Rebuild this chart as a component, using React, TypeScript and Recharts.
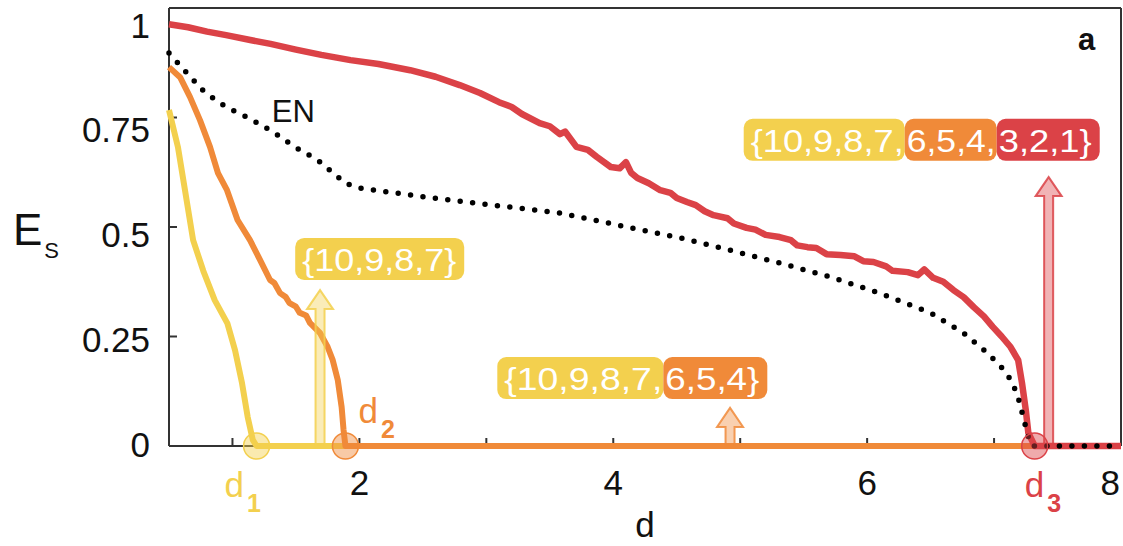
import { ComposedChart, Line, XAxis, YAxis, ReferenceDot, ReferenceLine, Label } from 'recharts'

const FONT = '"Liberation Sans", Arial, Helvetica, sans-serif'
const YELLOW = '#F3D04E'
const ORANGE = '#F08A39'
const RED = '#DB4247'
const AXIS = '#333333'

const xTicks = [1, 2, 3, 4, 5, 6, 7, 8]
const yTicks = [0, 0.25, 0.5, 0.75, 1]

// surviving fraction after removing the first group {10,9,8,7}
const yellowCurve = [
  { d: 0.5, es: 0.767 }, { d: 0.57, es: 0.683 }, { d: 0.626, es: 0.584 }, { d: 0.69, es: 0.47 },
  { d: 0.77, es: 0.4 }, { d: 0.86, es: 0.333 }, { d: 0.96, es: 0.28 }, { d: 1.02, es: 0.219 },
  { d: 1.075, es: 0.144 }, { d: 1.12, es: 0.066 }, { d: 1.16, es: 0.014 }, { d: 1.19, es: 0 },
  { d: 8, es: 0 },
]

// {10,...,4}
const orangeCurve = [
  { d: 0.5, es: 0.865 }, { d: 0.587, es: 0.842 }, { d: 0.665, es: 0.797 }, { d: 0.744, es: 0.744 },
  { d: 0.823, es: 0.683 }, { d: 0.886, es: 0.623 }, { d: 0.957, es: 0.584 }, { d: 1.04, es: 0.516 },
  { d: 1.138, es: 0.47 }, { d: 1.217, es: 0.425 }, { d: 1.296, es: 0.379 }, { d: 1.33, es: 0.372 },
  { d: 1.375, es: 0.349 }, { d: 1.42, es: 0.34 }, { d: 1.45, es: 0.326 }, { d: 1.5, es: 0.318 },
  { d: 1.53, es: 0.304 }, { d: 1.58, es: 0.298 }, { d: 1.61, es: 0.281 }, { d: 1.69, es: 0.258 },
  { d: 1.75, es: 0.226 }, { d: 1.79, es: 0.196 }, { d: 1.83, es: 0.15 }, { d: 1.86, es: 0.089 },
  { d: 1.875, es: 0.037 }, { d: 1.89, es: 0 }, { d: 8, es: 0 },
]

// {10,...,1}
const redCurve = [
  { d: 0.5, es: 0.963 }, { d: 0.65, es: 0.956 }, { d: 0.8, es: 0.946 }, { d: 0.95, es: 0.938 },
  { d: 1.14, es: 0.927 }, { d: 1.3, es: 0.918 }, { d: 1.5, es: 0.905 }, { d: 1.7, es: 0.893 },
  { d: 1.93, es: 0.881 }, { d: 2.15, es: 0.872 }, { d: 2.4, es: 0.858 }, { d: 2.6, es: 0.843 },
  { d: 2.79, es: 0.824 }, { d: 2.95, es: 0.806 }, { d: 3.1, es: 0.785 }, { d: 3.2, es: 0.774 },
  { d: 3.28, es: 0.758 }, { d: 3.42, es: 0.737 }, { d: 3.5, es: 0.73 }, { d: 3.58, es: 0.712 },
  { d: 3.62, es: 0.718 }, { d: 3.71, es: 0.683 }, { d: 3.8, es: 0.676 }, { d: 3.87, es: 0.66 },
  { d: 3.98, es: 0.637 }, { d: 4.05, es: 0.634 }, { d: 4.1, es: 0.648 }, { d: 4.14, es: 0.624 },
  { d: 4.19, es: 0.612 }, { d: 4.28, es: 0.6 }, { d: 4.37, es: 0.584 }, { d: 4.45, es: 0.578 },
  { d: 4.5, es: 0.566 }, { d: 4.58, es: 0.557 }, { d: 4.65, es: 0.55 }, { d: 4.72, es: 0.536 },
  { d: 4.79, es: 0.527 }, { d: 4.9, es: 0.52 }, { d: 4.95, es: 0.508 }, { d: 5.05, es: 0.498 },
  { d: 5.12, es: 0.494 }, { d: 5.2, es: 0.482 }, { d: 5.31, es: 0.477 }, { d: 5.4, es: 0.47 },
  { d: 5.45, es: 0.458 }, { d: 5.53, es: 0.454 }, { d: 5.6, es: 0.452 }, { d: 5.68, es: 0.438 },
  { d: 5.79, es: 0.436 }, { d: 5.9, es: 0.433 }, { d: 5.97, es: 0.422 }, { d: 6.05, es: 0.42 },
  { d: 6.15, es: 0.41 }, { d: 6.2, es: 0.4 }, { d: 6.32, es: 0.397 }, { d: 6.4, es: 0.39 },
  { d: 6.45, es: 0.403 }, { d: 6.52, es: 0.384 }, { d: 6.6, es: 0.375 }, { d: 6.68, es: 0.356 },
  { d: 6.76, es: 0.34 }, { d: 6.84, es: 0.317 }, { d: 6.92, es: 0.296 }, { d: 6.99, es: 0.272 },
  { d: 7.06, es: 0.25 }, { d: 7.13, es: 0.226 }, { d: 7.19, es: 0.196 }, { d: 7.22, es: 0.144 },
  { d: 7.25, es: 0.082 }, { d: 7.27, es: 0.03 }, { d: 7.32, es: 0 }, { d: 8, es: 0 },
]

// EN reference curve (dotted)
const enCurve = [
  { d: 0.5, es: 0.897 }, { d: 0.64, es: 0.852 }, { d: 0.78, es: 0.808 }, { d: 0.95, es: 0.774 },
  { d: 1.14, es: 0.747 }, { d: 1.32, es: 0.717 }, { d: 1.49, es: 0.683 }, { d: 1.67, es: 0.653 },
  { d: 1.89, es: 0.6 }, { d: 2.0, es: 0.589 }, { d: 2.53, es: 0.568 }, { d: 3.05, es: 0.55 },
  { d: 3.58, es: 0.532 }, { d: 4.11, es: 0.5 }, { d: 4.53, es: 0.475 }, { d: 4.92, es: 0.447 },
  { d: 5.31, es: 0.418 }, { d: 5.71, es: 0.386 }, { d: 6.1, es: 0.349 }, { d: 6.5, es: 0.304 },
  { d: 6.76, es: 0.258 }, { d: 6.95, es: 0.212 }, { d: 7.1, es: 0.167 }, { d: 7.18, es: 0.121 },
  { d: 7.23, es: 0.066 }, { d: 7.27, es: 0.02 }, { d: 7.3, es: 0 }, { d: 8, es: 0 },
]

// critical points d1, d2, d3
const criticalPoints = [
  { d: 1.19, name: 'd', sub: '1', color: YELLOW, dx: -32, dy: 51 },
  { d: 1.89, name: 'd', sub: '2', color: ORANGE, dx: 13, dy: -23 },
  { d: 7.32, name: 'd', sub: '3', color: RED, dx: -10, dy: 51 },
]

// arrows marking where each set is removed
const arrows = [
  { d: 1.69, top: 0.356, color: YELLOW },
  { d: 4.92, top: 0.087, color: ORANGE },
  { d: 7.43, top: 0.614, color: RED },
]

// removed node sets, shown as coloured chips
const setLabels = [
  { d: 2.16, es: 0.427, parts: [{ text: '{10,9,8,7}', color: YELLOW, width: 169 }] },
  {
    d: 4.15, es: 0.155, parts: [
      { text: '{10,9,8,7,', color: YELLOW, width: 166 },
      { text: '6,5,4}', color: ORANGE, width: 104 },
    ],
  },
  {
    d: 6.43, es: 0.699, parts: [
      { text: '{10,9,8,7,', color: YELLOW, width: 161 },
      { text: '6,5,4,', color: ORANGE, width: 92 },
      { text: '3,2,1}', color: RED, width: 103 },
    ],
  },
]

function YTick({ x, y, payload }: any) {
  const v = payload.value as number
  return (
    <text x={x} y={y - 2 + 18 * v} textAnchor="end" dominantBaseline="central" fontSize={35} fill="#111" fontFamily={FONT}>
      {String(v)}
    </text>
  )
}

function XTick({ x, y, payload }: any) {
  const v = payload.value as number
  if (v % 2 !== 0) return <g />
  // last label sits against the right edge
  const last = v === xTicks[xTicks.length - 1]
  return (
    <text x={last ? x + 1 : x} y={y + 25} textAnchor={last ? 'end' : 'middle'} fontSize={35} fill="#111" fontFamily={FONT}>
      {v}
    </text>
  )
}

const arrowShape = (color: string) => (p: any) => {
  const x = p.x1
  const yBase = Math.max(p.y1, p.y2)
  const yTip = Math.min(p.y1, p.y2)
  const hw = 4.5
  const headW = 13
  const yh = yTip + 19
  const path = `M${x - hw},${yBase} L${x - hw},${yh} L${x - headW},${yh} L${x},${yTip} L${x + headW},${yh} L${x + hw},${yh} L${x + hw},${yBase}`
  return <path d={path} fill={color} fillOpacity={0.4} stroke={color} strokeOpacity={0.85} strokeWidth={2} strokeLinejoin="miter" />
}

const chipShape = (parts: { text: string; color: string; width: number }[]) => (p: any) => {
  const total = parts.reduce((s, q) => s + q.width, 0)
  let left = p.cx - total / 2
  return (
    <g>
      {parts.map((q, i) => {
        const x = left
        left += q.width
        const padL = i === 0 ? 7 : 2
        const padR = i === parts.length - 1 ? 8 : 1
        return (
          <g key={i}>
            <rect x={x} y={p.cy - 21} width={q.width} height={42} rx={9} fill={q.color} />
            <text
              x={x + padL}
              y={p.cy + 1}
              dominantBaseline="central"
              fill="#fff"
              fontSize={32}
              fontFamily={FONT}
              textLength={q.width - padL - padR}
              lengthAdjust="spacingAndGlyphs"
            >
              {q.text}
            </text>
          </g>
        )
      })}
    </g>
  )
}

const criticalShape = (c: (typeof criticalPoints)[number]) => (p: any) => (
  <g>
    <circle cx={p.cx} cy={p.cy} r={13} fill={c.color} fillOpacity={0.45} stroke={c.color} strokeWidth={1.5} />
    <text x={p.cx + c.dx} y={p.cy + c.dy} fill={c.color} fontSize={35} fontFamily={FONT}>
      {c.name}
      <tspan dx={3} dy={15} fontSize={25} fontWeight="bold">{c.sub}</tspan>
    </text>
  </g>
)

const textShape = (txt: string, size: number, bold = false, anchor: 'start' | 'middle' = 'start') => (p: any) => (
  <text x={p.cx} y={p.cy} fontSize={size} fontWeight={bold ? 'bold' : 'normal'} fontFamily={FONT} fill="#111" textAnchor={anchor}>
    {txt}
  </text>
)

export default function App() {
  return (
    <div style={{ position: 'absolute', left: 0, top: 0, width: 1123, height: 546, background: '#fff' }}>
      <ComposedChart width={1123} height={546} margin={{ top: 7, right: 1, bottom: 0, left: 0 }} style={{ fontFamily: FONT }}>
        <XAxis
          xAxisId={0}
          dataKey="d"
          type="number"
          domain={[0.5, 8]}
          ticks={xTicks}
          height={100}
          tickSize={-8}
          tickMargin={32}
          tick={<XTick />}
          axisLine={{ stroke: AXIS, strokeWidth: 2 }}
          tickLine={{ stroke: AXIS, strokeWidth: 2 }}
        >
          <Label
            content={({ viewBox }: any) => (
              <text x={viewBox.x + viewBox.width / 2} y={viewBox.y + 91} textAnchor="middle" fontSize={35} fill="#111" fontFamily={FONT}>
                d
              </text>
            )}
          />
        </XAxis>
        <XAxis
          xAxisId="top"
          orientation="top"
          type="number"
          domain={[0.5, 8]}
          ticks={xTicks}
          height={1}
          tickSize={-8}
          tick={false}
          axisLine={{ stroke: AXIS, strokeWidth: 2 }}
          tickLine={{ stroke: AXIS, strokeWidth: 2 }}
        />
        <YAxis
          yAxisId={0}
          type="number"
          domain={[0, 1]}
          ticks={yTicks}
          width={169}
          tickSize={-8}
          tickMargin={27}
          tick={<YTick />}
          axisLine={{ stroke: AXIS, strokeWidth: 2 }}
          tickLine={{ stroke: AXIS, strokeWidth: 2 }}
        >
          <Label
            content={({ viewBox }: any) => (
              <text x={13} y={viewBox.y + viewBox.height / 2 + 18} fontSize={44} fill="#111" fontFamily={FONT}>
                E
                <tspan dx={2} dy={13} fontSize={22}>S</tspan>
              </text>
            )}
          />
        </YAxis>
        <YAxis
          yAxisId="right"
          orientation="right"
          type="number"
          domain={[0, 1]}
          ticks={yTicks}
          width={1}
          tickSize={-8}
          tick={false}
          axisLine={{ stroke: AXIS, strokeWidth: 2 }}
          tickLine={{ stroke: AXIS, strokeWidth: 2 }}
        />

        {/* curves sit above the axis frame so the flat parts cover the baseline */}
        <Line data={yellowCurve} dataKey="es" type="linear" stroke={YELLOW} strokeWidth={6} dot={false} activeDot={false} isAnimationActive={false} strokeLinejoin="round" zIndex={550} />
        <Line data={orangeCurve} dataKey="es" type="linear" stroke={ORANGE} strokeWidth={6} dot={false} activeDot={false} isAnimationActive={false} strokeLinejoin="round" zIndex={551} />
        <Line data={redCurve} dataKey="es" type="linear" stroke={RED} strokeWidth={6.5} dot={false} activeDot={false} isAnimationActive={false} strokeLinejoin="round" zIndex={552} />

        {arrows.map((a, i) => (
          <ReferenceLine key={`arrow-${i}`} segment={[{ x: a.d, y: 0 }, { x: a.d, y: a.top }]} shape={arrowShape(a.color)} zIndex={560} />
        ))}

        <Line data={enCurve} dataKey="es" type="linear" stroke="#000" strokeWidth={5.5} strokeDasharray="0 12.5" strokeLinecap="round" dot={false} activeDot={false} isAnimationActive={false} zIndex={570} />

        {criticalPoints.map((c, i) => (
          <ReferenceDot key={`crit-${i}`} x={c.d} y={0} r={13} shape={criticalShape(c)} zIndex={600} />
        ))}

        {setLabels.map((s, i) => (
          <ReferenceDot key={`set-${i}`} x={s.d} y={s.es} r={1} shape={chipShape(s.parts)} zIndex={600} />
        ))}

        <ReferenceDot x={1.31} y={0.74} r={1} shape={textShape('EN', 31)} zIndex={600} />
        <ReferenceDot x={7.73} y={0.905} r={1} shape={textShape('a', 31, true, 'middle')} zIndex={600} />
      </ComposedChart>
    </div>
  )
}
